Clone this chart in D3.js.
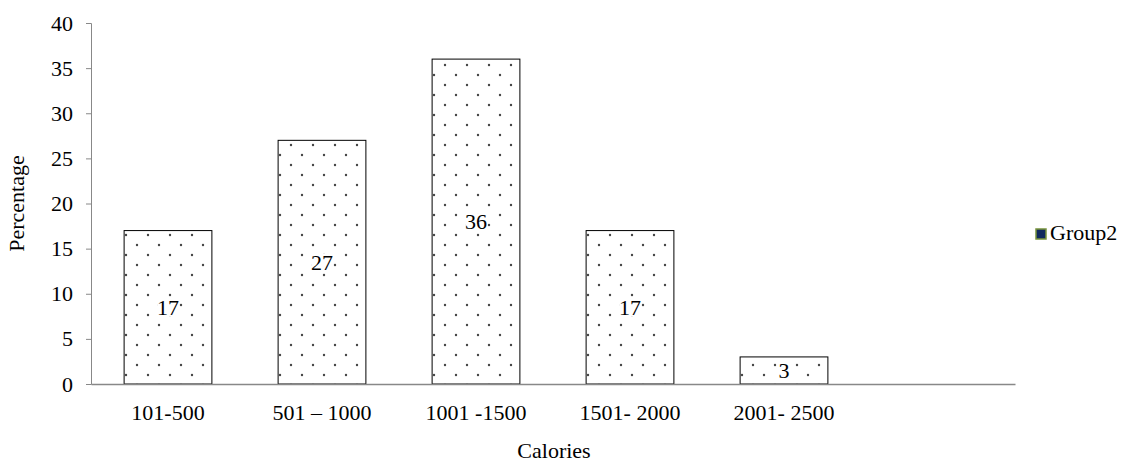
<!DOCTYPE html>
<html>
<head>
<meta charset="utf-8">
<script src="https://cdn.jsdelivr.net/npm/d3@7"></script>
<style>
  html, body { margin: 0; padding: 0; background: #fff; }
  svg { display: block; font-family: "Liberation Serif", "Times New Roman", serif; }
</style>
</head>
<body>
<svg id="chart" width="1131" height="463"></svg>
<script>
// Calorie intake distribution, Group2
const categories = ["101-500", "501 \u2013 1000", "1001 -1500", "1501- 2000", "2001- 2500", ""];
const values = [17, 27, 36, 17, 3, null];
const yTicks = [0, 5, 10, 15, 20, 25, 30, 35, 40];
const seriesName = "Group2";

const FONT = "Liberation Serif, Times New Roman, serif";
const FS = 22;

const svg = d3.select("#chart");
const margin = { left: 91, right: 116, top: 23, bottom: 79 };
const W = 1131, H = 463;

const x = d3.scaleBand()
  .domain(d3.range(categories.length))
  .range([margin.left, W - margin.right])
  .paddingInner(0.43)
  .paddingOuter(0.215);

const y = d3.scaleLinear().domain([0, 40]).range([H - margin.bottom, margin.top]);

// dotted fill pattern
const defs = svg.append("defs");
const pat = defs.append("pattern")
  .attr("id", "dots")
  .attr("patternUnits", "userSpaceOnUse")
  .attr("width", 22).attr("height", 20);
pat.append("rect").attr("width", 22).attr("height", 20).attr("fill", "#fff");
pat.append("circle").attr("cx", 5).attr("cy", 5).attr("r", 1.2).attr("fill", "#444");
pat.append("circle").attr("cx", 16).attr("cy", 15).attr("r", 1.2).attr("fill", "#444");

// bars
const data = values.map((v, i) => ({ i, v })).filter(d => d.v != null);
svg.append("g").selectAll("rect")
  .data(data)
  .join("rect")
  .attr("x", d => x(d.i))
  .attr("y", d => y(d.v))
  .attr("width", x.bandwidth())
  .attr("height", d => y(0) - y(d.v))
  .attr("fill", "url(#dots)")
  .attr("stroke", "#000")
  .attr("stroke-width", 1);

// y axis
const yAxis = svg.append("g")
  .attr("transform", `translate(${margin.left},0)`)
  .call(d3.axisLeft(y).tickValues(yTicks).tickSize(5).tickPadding(13));
yAxis.select(".domain").attr("stroke", "#888");
yAxis.selectAll(".tick line").attr("stroke", "#888");
yAxis.selectAll(".tick text").attr("font-size", FS).attr("fill", "#000")
  .attr("font-family", FONT);

// x axis
const xAxis = svg.append("g")
  .attr("transform", `translate(0,${y(0)})`)
  .call(d3.axisBottom(x).tickFormat(i => categories[i]).tickSize(0).tickPadding(20));
xAxis.select(".domain").attr("stroke", "#888").attr("stroke-width", 1.5);
xAxis.selectAll(".tick text").attr("font-size", FS).attr("fill", "#000")
  .attr("font-family", FONT);

// value labels
const labels = svg.append("g").selectAll("g")
  .data(data)
  .join("g")
  .attr("transform", d => `translate(${x(d.i) + x.bandwidth() / 2},${(y(d.v) + y(0)) / 2})`);
labels.append("text")
  .attr("text-anchor", "middle")
  .attr("dy", "0.35em")
  .attr("font-size", FS)
  .text(d => d.v);
labels.each(function () {
  const g = d3.select(this);
  const bb = g.select("text").node().getBBox();
  g.insert("rect", "text")
    .attr("x", bb.x + 1).attr("y", bb.y + 4)
    .attr("width", bb.width - 2).attr("height", bb.height - 8)
    .attr("fill", "#fff");
});

// axis titles
svg.append("text")
  .attr("x", (margin.left + W - margin.right) / 2 + 1)
  .attr("y", 458)
  .attr("text-anchor", "middle")
  .attr("font-size", FS)
  .text("Calories");
svg.append("text")
  .attr("transform", `translate(24,${(y(0) + y(40)) / 2}) rotate(-90)`)
  .attr("text-anchor", "middle")
  .attr("font-size", FS)
  .text("Percentage");

// legend
const lg = svg.append("g").attr("transform", "translate(1036,229)");
lg.append("rect").attr("width", 10).attr("height", 10)
  .attr("fill", "#10295f").attr("stroke", "#77933c").attr("stroke-width", 1.5);
lg.append("text").attr("x", 14).attr("y", 11).attr("font-size", FS).text(seriesName);
</script>
</body>
</html>
